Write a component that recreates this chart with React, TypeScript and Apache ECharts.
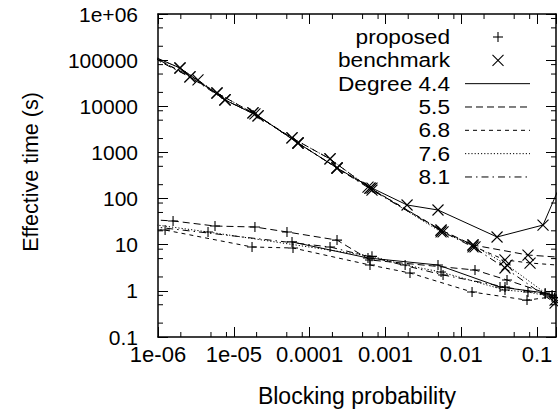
import React, { useEffect, useRef } from 'react';
import * as echarts from 'echarts';

// ---- axes ----
const X_MIN = 1e-6;
const X_MAX = 0.178;
const Y_MIN = 0.1;
const Y_MAX = 1e6;
const X_TICK_LABELS: Record<string, string> = {
  '-6': '1e-06', '-5': '1e-05', '-4': '0.0001', '-3': '0.001', '-2': '0.01', '-1': '0.1',
};
const Y_TICK_LABELS: Record<string, string> = {
  '-1': '0.1', '0': '1', '1': '10', '2': '100', '3': '1000', '4': '10000', '5': '100000', '6': '1e+06',
};
const X_MINOR_TICKS = [
  2e-6, 5e-6, 8e-6, 2e-5, 5e-5, 8e-5, 2e-4, 5e-4, 8e-4, 2e-3, 5e-3, 8e-3, 2e-2, 5e-2, 8e-2,
];
const Y_MINOR_TICKS = [
  0.2, 0.5, 0.8, 2, 5, 8, 20, 50, 80, 200, 500, 800, 2000, 5000, 8000, 2e4, 5e4, 8e4, 2e5, 5e5, 8e5,
];

// ---- legend ----
const DEGREES = ['Degree 4.4', '5.5', '6.8', '7.6', '8.1'];
const X_NAME = 'Blocking probability';
const Y_NAME = 'Effective time (s)';

// ---- data: [blocking probability, effective time] ----
const PROPOSED_44 = [[5.86e-5, 11.5], [5.89e-4, 5.16], [4.94e-3, 3.63], [0.0325, 1.21], [0.128, 0.9]];
const PROPOSED_55 = [[7.8e-7, 35], [1.58e-6, 32.7], [5.65e-6, 25.4], [1.9e-5, 24.2], [5.03e-5, 18.9], [2.3e-4, 12.6], [6.26e-4, 4.67], [0.0152, 2.83], [0.0402, 1.72], [0.158, 0.81]];
const PROPOSED_68 = [[7.8e-7, 21], [1.24e-6, 20.8], [1.74e-5, 8.93], [6.04e-5, 8.49], [6.26e-4, 3.63], [2.11e-3, 2.44], [0.0139, 0.944], [0.0738, 0.63], [0.158, 0.74]];
const PROPOSED_76 = [[7.8e-7, 28], [4.57e-6, 18.9], [6.65e-4, 5.6], [1.82e-3, 3.63], [5.42e-3, 2.56], [0.0378, 1.04], [0.076, 0.944], [0.17, 0.72]];
const PROPOSED_81 = [[7.8e-7, 25], [1.86e-4, 8.93], [5.76e-3, 2.21], [0.0378, 1.21], [0.128, 0.85]];

const BENCH_44 = [[7.8e-7, 130000], [1.95e-6, 67600], [7.65e-6, 13700], [2.09e-5, 6170], [7.03e-5, 1600], [2.3e-4, 460], [6.65e-4, 169], [1.93e-3, 72.6], [4.94e-3, 56.5], [0.0297, 14.7], [0.12, 26.7], [0.234, 340]];
const BENCH_55 = [[7.8e-7, 130000], [2.64e-6, 43200], [6.0e-6, 19400], [1.79e-5, 7160], [5.86e-5, 2060], [1.86e-4, 721], [5.89e-4, 178], [5.42e-3, 20.8], [0.0143, 9.86], [0.076, 5.98], [0.27, 5.16]];
const BENCH_68 = [[7.8e-7, 125000], [3.37e-6, 37200], [7.65e-6, 13700], [2.09e-5, 6170], [7.03e-5, 1600], [2.3e-4, 460], [6.26e-4, 169], [5.42e-3, 20.8], [0.0152, 8.93], [0.0378, 4.67], [0.0809, 4.01], [0.27, 3.46]];
const BENCH_76 = [[7.8e-7, 125000], [1.95e-6, 67600], [6.0e-6, 19400], [1.79e-5, 7160], [5.86e-5, 2060], [1.86e-4, 721], [6.26e-4, 169], [5.42e-3, 18.9], [0.0143, 9.86], [0.0402, 3.63], [0.173, 0.63]];
const BENCH_81 = [[7.8e-7, 120000], [2.64e-6, 43200], [7.65e-6, 13700], [1.9e-5, 6810], [7.03e-5, 1600], [2.3e-4, 460], [6.65e-4, 153], [5.76e-3, 18.9], [0.0143, 8.93], [0.0378, 3.13], [0.173, 0.545]];

const PROPOSED = [PROPOSED_44, PROPOSED_55, PROPOSED_68, PROPOSED_76, PROPOSED_81];
const BENCH = [BENCH_44, BENCH_55, BENCH_68, BENCH_76, BENCH_81];

// ---- styles ----
const DASHES: any[] = ['solid', [7, 4], [4, 4], [1.2, 2], [7, 4, 1.5, 4]];
const PLUS = 'path://M0,5L10,5M5,0L5,10';
const CROSS = 'path://M0,0L10,10M10,0L0,10';
const FONT = '"Liberation Sans", Arial, Helvetica, sans-serif';

function makeLine(name: string, data: number[][], dash: any, symbol: string, size: number) {
  return {
    type: 'line',
    name,
    data,
    xAxisIndex: 0,
    yAxisIndex: 0,
    symbol,
    symbolSize: size,
    showSymbol: true,
    clip: true,
    silent: true,
    lineStyle: { color: '#000', width: 1, type: dash },
    itemStyle: { color: '#000', borderColor: '#000', borderWidth: 1.1 },
    emphasis: { disabled: true },
    z: 3,
  };
}

export default function App() {
  const ref = useRef<HTMLDivElement>(null);
  useEffect(() => {
    if (!ref.current) return;
    const chart = echarts.init(ref.current, null, { renderer: 'svg' });

    const series: any[] = [];
    for (let i = 0; i < DEGREES.length; i++) {
      series.push(makeLine('proposed ' + DEGREES[i], PROPOSED[i], DASHES[i], PLUS, 10));
      series.push(makeLine('benchmark ' + DEGREES[i], BENCH[i], DASHES[i], CROSS, 11));
    }
    series.push({
      type: 'custom',
      silent: true,
      xAxisIndex: 0,
      yAxisIndex: 0,
      data: X_MINOR_TICKS.map((v) => [v, 1]),
      renderItem: (params: any, api: any) => {
        const cs = params.coordSys;
        const x = api.coord([api.value(0), 1])[0];
        const yb = cs.y + cs.height;
        const yt = cs.y;
        return {
          type: 'group',
          children: [
            { type: 'line', shape: { x1: x, y1: yb, x2: x, y2: yb - 5 }, style: { stroke: '#000', lineWidth: 1 } },
            { type: 'line', shape: { x1: x, y1: yt, x2: x, y2: yt + 5 }, style: { stroke: '#000', lineWidth: 1 } },
          ],
        };
      },
      z: 5,
    });
    series.push({
      type: 'custom',
      silent: true,
      xAxisIndex: 0,
      yAxisIndex: 0,
      data: Y_MINOR_TICKS.map((v) => [1e-3, v]),
      renderItem: (params: any, api: any) => {
        const cs = params.coordSys;
        const y = api.coord([1e-3, api.value(1)])[1];
        const xl = cs.x;
        const xr = cs.x + cs.width;
        return {
          type: 'group',
          children: [
            { type: 'line', shape: { x1: xl, y1: y, x2: xl + 5, y2: y }, style: { stroke: '#000', lineWidth: 1 } },
            { type: 'line', shape: { x1: xr, y1: y, x2: xr - 5, y2: y }, style: { stroke: '#000', lineWidth: 1 } },
          ],
        };
      },
      z: 5,
    });

    const axisCommon = {
      type: 'log',
      logBase: 10,
      splitLine: { show: false },
      axisLine: { show: true, lineStyle: { color: '#000', width: 1.5 } },
      axisTick: { show: true, inside: true, length: 10, lineStyle: { color: '#000', width: 1 } },
      minorTick: { show: false },
    };

    const legendItems: any[] = [];
    const baseY = 37;
    const step = 23.33;
    const legendLabels = ['proposed', 'benchmark', ...DEGREES];
    legendLabels.forEach((t, i) => {
      legendItems.push({
        type: 'text',
        x: 450,
        y: baseY + step * i,
        scaleX: 1.1,
        style: { text: t, fill: '#000', font: '20.6px ' + FONT, lineHeight: 20, align: 'right', verticalAlign: 'middle' },
      });
    });
    const cx = 498;
    legendItems.push(
      { type: 'line', shape: { x1: cx - 5, y1: baseY, x2: cx + 5, y2: baseY }, style: { stroke: '#000', lineWidth: 1.1 } },
      { type: 'line', shape: { x1: cx, y1: baseY - 5, x2: cx, y2: baseY + 5 }, style: { stroke: '#000', lineWidth: 1.1 } },
      { type: 'line', shape: { x1: cx - 5.5, y1: baseY + step - 5.5, x2: cx + 5.5, y2: baseY + step + 5.5 }, style: { stroke: '#000', lineWidth: 1.1 } },
      { type: 'line', shape: { x1: cx - 5.5, y1: baseY + step + 5.5, x2: cx + 5.5, y2: baseY + step - 5.5 }, style: { stroke: '#000', lineWidth: 1.1 } },
    );
    DEGREES.forEach((_, i) => {
      const y = baseY + step * (i + 2);
      const dash = DASHES[i];
      legendItems.push({
        type: 'line',
        shape: { x1: 465, y1: y, x2: 530, y2: y },
        style: { stroke: '#000', lineWidth: 1, lineDash: dash === 'solid' ? null : dash },
      });
    });
    legendItems.push({
      type: 'text',
      x: 357,
      y: 396,
      style: { text: X_NAME, fill: '#000', font: '23px ' + FONT, align: 'center', verticalAlign: 'middle' },
    });
    legendItems.push({
      type: 'text',
      x: 31,
      y: 172,
      rotation: Math.PI / 2,
      style: { text: Y_NAME, fill: '#000', font: '21.5px ' + FONT, align: 'center', verticalAlign: 'middle' },
    });

    chart.setOption({
      animation: false,
      backgroundColor: '#fff',
      grid: { left: 158, top: 14, right: 2, bottom: 79, containLabel: false, outerBoundsMode: 'none' },
      xAxis: [
        {
          ...axisCommon,
          min: X_MIN,
          max: X_MAX,
          position: 'bottom',
          axisLabel: {
            show: true,
            margin: 6,
            color: '#000',
            fontSize: 22,
            fontFamily: FONT,
            showMinLabel: true,
            showMaxLabel: true,
            hideOverlap: false,
            formatter: (v: number) => {
              const e = Math.round(Math.log10(v));
              if (Math.abs(Math.log10(v) - e) > 1e-6) return '';
              return X_TICK_LABELS[String(e)] ?? '';
            },
          },
        },
        {
          ...axisCommon,
          min: X_MIN,
          max: X_MAX,
          position: 'top',
          axisLabel: { show: false },
        },
      ],
      yAxis: [
        {
          ...axisCommon,
          min: Y_MIN,
          max: Y_MAX,
          position: 'left',
          axisLabel: {
            show: true,
            margin: 20,
            color: '#000',
            fontSize: 21,
            fontFamily: FONT,
            showMinLabel: true,
            showMaxLabel: true,
            hideOverlap: false,
            formatter: (v: number) => {
              const e = Math.round(Math.log10(v));
              if (Math.abs(Math.log10(v) - e) > 1e-6) return '';
              return Y_TICK_LABELS[String(e)] ?? '';
            },
          },
        },
        {
          ...axisCommon,
          min: Y_MIN,
          max: Y_MAX,
          position: 'right',
          axisLabel: { show: false },
        },
      ],
      graphic: legendItems,
      series,
    });
    return () => chart.dispose();
  }, []);
  return <div ref={ref} style={{ position: 'absolute', left: 0, top: 0, width: 558, height: 416 }} />;
}
